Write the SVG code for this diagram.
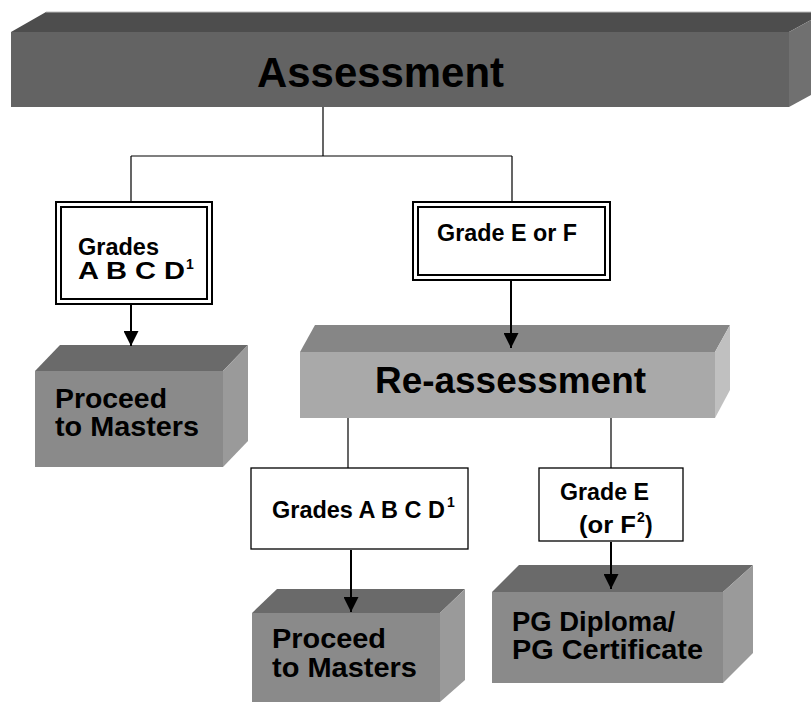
<svg xmlns="http://www.w3.org/2000/svg" width="811" height="702" viewBox="0 0 811 702">
<style>
text{font-family:"Liberation Sans",Arial,sans-serif;font-weight:bold;fill:#000}
.c1{stroke:#000;stroke-width:1.2;fill:none}
.c2{stroke:#000;stroke-width:2;fill:none}
.dbl{fill:#fff;stroke:#000;stroke-width:2}
.dbli{fill:none;stroke:#000;stroke-width:2}
.sgl{fill:#fff;stroke:#000;stroke-width:1.3}
.t22{font-size:23px}
.t26{font-size:27px}
.sup{font-size:14px}
</style>
<defs>
<marker id="ah" markerUnits="userSpaceOnUse" markerWidth="15" markerHeight="15" refX="15" refY="7.5" orient="auto">
<path d="M0,0 L15,7.5 L0,15 z" fill="#000"/>
</marker>
</defs>

<g id="assessment">
<polygon points="11,32 46,12 811,12 811,20 789,32" fill="#4d4d4d"/>
<polygon points="789,32 811,20 811,95 789,107" fill="#707070"/>
<rect x="11" y="32" width="778" height="75" fill="#636363"/>
<line x1="46" y1="12" x2="811" y2="12" stroke="#bbb" stroke-width="1"/>
<text x="257" y="87" font-size="42" textLength="247" lengthAdjust="spacingAndGlyphs">Assessment</text>
</g>

<g id="grades1">
<rect class="dbl" x="56" y="202" width="156" height="102"/>
<rect class="dbli" x="61" y="207" width="146" height="92"/>
<text class="t22" x="78" y="255" textLength="81" lengthAdjust="spacingAndGlyphs">Grades</text>
<text class="t22" x="78" y="279" textLength="107" lengthAdjust="spacingAndGlyphs">A B C D</text>
<text class="sup" x="186" y="269">1</text>
</g>

<g id="gradeEF">
<rect class="dbl" x="413" y="202" width="197" height="78"/>
<rect class="dbli" x="418" y="207" width="187" height="68"/>
<text class="t22" x="437" y="241" textLength="140" lengthAdjust="spacingAndGlyphs">Grade E or F</text>
</g>

<g id="proceed1">
<polygon points="35,371 60,345 248,345 223,371" fill="#6a6a6a"/>
<polygon points="223,371 248,345 248,441 223,467" fill="#9a9a9a"/>
<rect x="35" y="371" width="188" height="96" fill="#8a8a8a"/>
<text class="t26" x="55" y="408" textLength="112" lengthAdjust="spacingAndGlyphs">Proceed</text>
<text class="t26" x="55" y="436" textLength="144" lengthAdjust="spacingAndGlyphs">to Masters</text>
</g>

<g id="reassessment">
<polygon points="300,352 315,325 730,325 715,352" fill="#868686"/>
<polygon points="715,352 730,325 730,390 715,418" fill="#c0c0c0"/>
<rect x="300" y="352" width="415" height="66" fill="#a9a9a9"/>
<text x="375" y="393" font-size="37" textLength="271" lengthAdjust="spacingAndGlyphs">Re-assessment</text>
</g>

<g id="grades2">
<rect class="sgl" x="251" y="468" width="217" height="81"/>
<text class="t22" x="272" y="518" textLength="173" lengthAdjust="spacingAndGlyphs">Grades A B C D</text>
<text class="sup" x="447" y="507">1</text>
</g>

<g id="gradeE2">
<rect class="sgl" x="539" y="468" width="144" height="73"/>
<text class="t22" x="560" y="500" textLength="89" lengthAdjust="spacingAndGlyphs">Grade E</text>
<text class="t22" x="579" y="533" textLength="57" lengthAdjust="spacingAndGlyphs">(or F</text>
<text class="sup" x="637" y="522">2</text>
<text class="t22" x="645" y="533">)</text>
</g>

<g id="proceed2">
<polygon points="252,613 277,589 465,589 440,613" fill="#6a6a6a"/>
<polygon points="440,613 465,589 465,680 440,702" fill="#9a9a9a"/>
<rect x="252" y="613" width="188" height="89" fill="#8a8a8a"/>
<text class="t26" x="272" y="648" textLength="114" lengthAdjust="spacingAndGlyphs">Proceed</text>
<text class="t26" x="272" y="677" textLength="145" lengthAdjust="spacingAndGlyphs">to Masters</text>
</g>

<g id="pg">
<polygon points="492,592 519,565 753,565 723,592" fill="#6a6a6a"/>
<polygon points="723,592 753,565 753,653 723,683" fill="#9a9a9a"/>
<rect x="492" y="592" width="231" height="91" fill="#8a8a8a"/>
<text class="t26" x="512" y="631" textLength="163" lengthAdjust="spacingAndGlyphs">PG Diploma/</text>
<text class="t26" x="512" y="659" textLength="191" lengthAdjust="spacingAndGlyphs">PG Certificate</text>
</g>

<g id="connectors">
<path class="c1" d="M323,107 V156 M131,156 H512 M131,156 V201 M512,156 V201"/>
<line class="c2" x1="131" y1="305" x2="131" y2="346" marker-end="url(#ah)"/>
<line class="c2" x1="511" y1="281" x2="511" y2="348" marker-end="url(#ah)"/>
<line class="c1" x1="348" y1="418" x2="348" y2="468"/>
<line class="c1" x1="611" y1="418" x2="611" y2="468"/>
<line class="c2" x1="351" y1="550" x2="351" y2="612" marker-end="url(#ah)"/>
<line class="c2" x1="611" y1="542" x2="611" y2="589" marker-end="url(#ah)"/>
</g>
</svg>
